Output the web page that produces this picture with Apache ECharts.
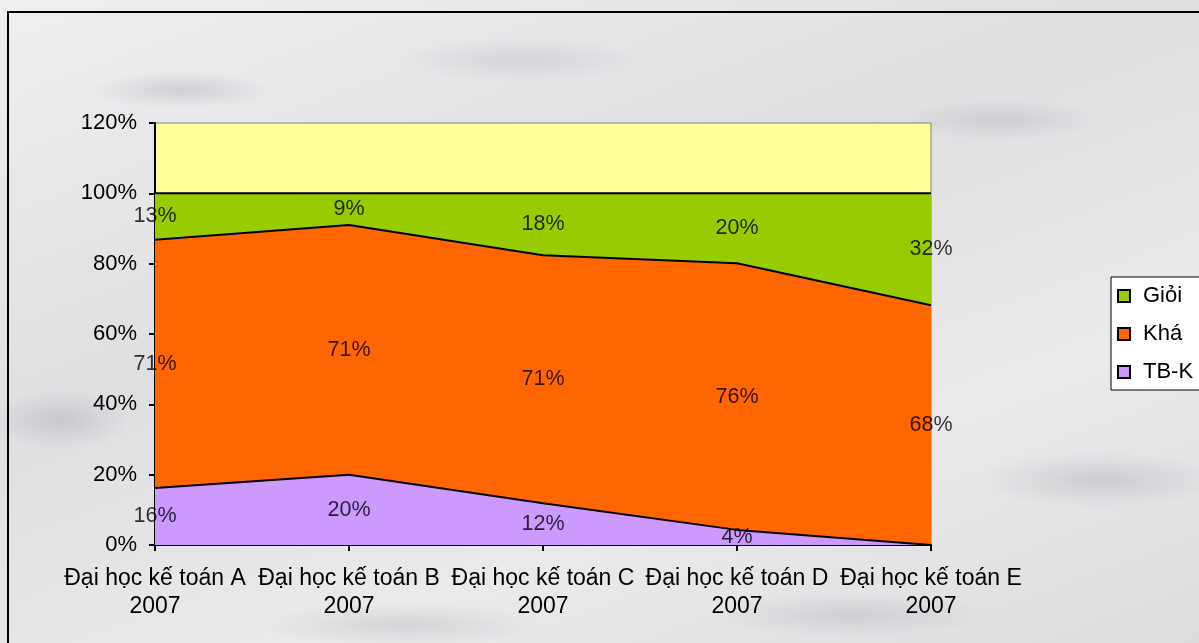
<!DOCTYPE html>
<html>
<head>
<meta charset="utf-8">
<script src="https://cdn.jsdelivr.net/npm/echarts@6/dist/echarts.min.js"></script>
<style>
  html, body { margin: 0; padding: 0; }
  body {
    width: 1199px; height: 643px; overflow: hidden; position: relative;
    background-color: #e6e6e8;
    background-image:
      radial-gradient(ellipse 90px 18px at 180px 90px, rgba(150,150,158,0.3), transparent),
      radial-gradient(ellipse 120px 22px at 520px 60px, rgba(160,160,168,0.25), transparent),
      radial-gradient(ellipse 100px 20px at 1000px 120px, rgba(150,150,158,0.25), transparent),
      radial-gradient(ellipse 120px 28px at 1100px 480px, rgba(150,150,158,0.3), transparent),
      radial-gradient(ellipse 70px 30px at 60px 420px, rgba(150,150,158,0.3), transparent),
      radial-gradient(ellipse 140px 22px at 400px 625px, rgba(150,150,158,0.25), transparent),
      radial-gradient(ellipse 140px 22px at 850px 615px, rgba(150,150,158,0.25), transparent),
      linear-gradient(160deg, #efeff1 0%, #dfdfe2 40%, #eaeaec 70%, #dcdcdf 100%);
  }
  #frame {
    position: absolute; left: 7px; top: 11px; width: 1300px; height: 800px;
    border-top: 2px solid #000; border-left: 2px solid #000;
  }
  #chart { position: absolute; left: 0; top: 0; width: 1199px; height: 643px; }
</style>
</head>
<body>
<div id="frame"></div>
<div id="chart"></div>
<script>
// chart values (percent)
const categories = ['Đại học kế toán A\n2007', 'Đại học kế toán B\n2007', 'Đại học kế toán C\n2007', 'Đại học kế toán D\n2007', 'Đại học kế toán E\n2007'];
const tbk = [16.2, 20, 11.9, 4.3, 0];
const kha = [70.6, 71, 70.5, 75.8, 68.2];
const gioi = [13.2, 9, 17.6, 19.9, 31.8];
const yMax = 120;
const yStep = 20;

const font = 'Liberation Sans, Arial, sans-serif';

// label points sit in the middle of each band
const labelPoints = (vals, base) => vals.map((v, i) => ({
  value: [i, base(i) + v / 2],
  raw: v
}));

function labelSeries(vals, base) {
  return {
    type: 'scatter',
    symbolSize: 0,
    silent: true,
    z: 10,
    data: labelPoints(vals, base),
    label: {
      show: true,
      position: 'inside',
      color: '#000',
      fontFamily: font,
      fontSize: 21.5,
      formatter: (p) => (p.data.raw ? Math.round(p.data.raw) + '%' : '')
    }
  };
}

function areaSeries(name, vals, color) {
  return {
    name: name,
    type: 'line',
    stack: 'all',
    data: vals,
    symbol: 'none',
    lineStyle: { color: '#000', width: 2 },
    areaStyle: { color: color, opacity: 1 },
    itemStyle: { color: color, borderColor: '#000', borderWidth: 1 }
  };
}

const chart = echarts.init(document.getElementById('chart'));
chart.setOption({
  animation: false,
  textStyle: { fontFamily: font },
  grid: {
    left: 155, right: 268, top: 123, bottom: 98,
    show: true,
    backgroundColor: '#FFFF99',
    borderColor: '#808080',
    borderWidth: 1
  },
  legend: {
    orient: 'vertical',
    left: 1111,
    top: 277,
    data: ['Giỏi', 'Khá', 'TB-K'],
    icon: 'rect',
    itemWidth: 12,
    itemHeight: 12,
    itemGap: 16,
    padding: [8, 30, 7, 6],
    backgroundColor: '#fff',
    borderColor: '#000',
    borderWidth: 1,
    textStyle: { fontFamily: font, fontSize: 22, color: '#000', padding: [0, 0, 0, 8] }
  },
  xAxis: {
    type: 'category',
    data: categories,
    boundaryGap: false,
    axisLine: { lineStyle: { color: '#000', width: 2 } },
    axisTick: { show: true, length: 6, lineStyle: { color: '#000', width: 2 } },
    axisLabel: {
      interval: 0,
      margin: 20,
      color: '#000',
      fontFamily: font,
      fontSize: 23,
      lineHeight: 28
    },
    splitLine: { show: false }
  },
  yAxis: {
    type: 'value',
    min: 0,
    max: yMax,
    interval: yStep,
    axisLine: { show: true, lineStyle: { color: '#000', width: 2 } },
    axisTick: { show: true, length: 6, lineStyle: { color: '#000', width: 2 } },
    axisLabel: {
      margin: 18,
      color: '#000',
      fontFamily: font,
      fontSize: 22,
      formatter: '{value}%'
    },
    splitLine: { show: false }
  },
  series: [
    areaSeries('TB-K', tbk, '#CC99FF'),
    areaSeries('Khá', kha, '#FF6600'),
    areaSeries('Giỏi', gioi, '#99CC00'),
    labelSeries(tbk, () => 0),
    labelSeries(kha, (i) => tbk[i]),
    labelSeries(gioi, (i) => tbk[i] + kha[i])
  ]
});
</script>
</body>
</html>
